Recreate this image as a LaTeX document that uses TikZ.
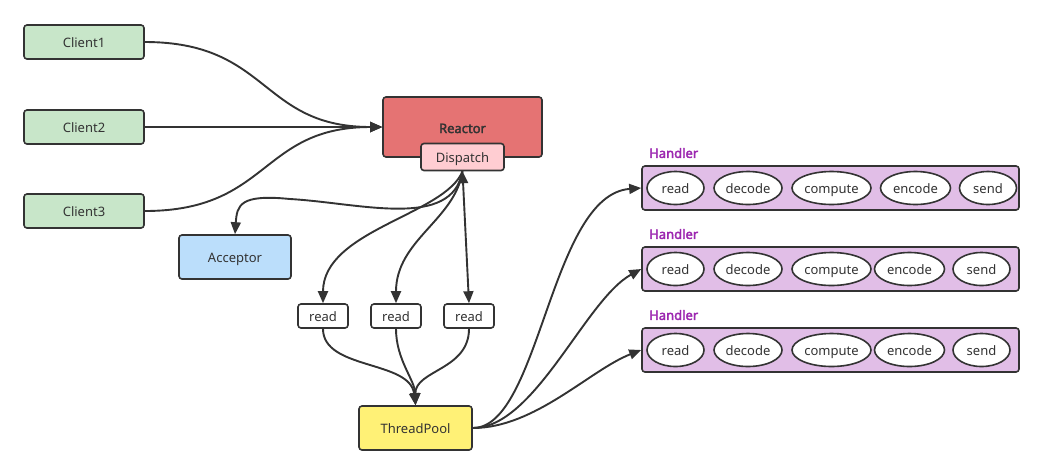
\documentclass[tikz,border=0pt]{standalone}
\usepackage{fontspec}
\setmainfont{Noto Sans}
\newfontfamily\hbold{Noto Sans}[FakeBold=2.5]
\usetikzlibrary{arrows.meta,shapes.geometric}
\definecolor{edge}{HTML}{333333}
\definecolor{cgreen}{HTML}{C8E6C9}
\definecolor{cred}{HTML}{E57373}
\definecolor{cpink}{HTML}{FFCDD2}
\definecolor{cblue}{HTML}{BBDEFB}
\definecolor{cyellow}{HTML}{FFF176}
\definecolor{cpurple}{HTML}{E1BEE7}
\definecolor{hlabel}{HTML}{9C27B0}
\tikzset{
  box/.style={draw=edge, line width=1.6pt, rounded corners=3pt, inner sep=0pt, text height=12pt, text depth=1pt, font=\fontsize{13}{15}\selectfont, text=edge},
  ell/.style={draw=edge, line width=1.6pt, ellipse, inner sep=0pt, minimum height=33pt, text height=12pt, text depth=1pt, fill=white, font=\fontsize{13}{15}\selectfont, text=edge},
  conn/.style={draw=edge, line width=1.9pt, -{Triangle[length=12pt,width=10pt]}},
  hlab/.style={anchor=west, inner sep=0pt, text=hlabel, font=\hbold\fontsize{13}{15}\selectfont},
}
\begin{document}
\begin{tikzpicture}[x=1pt,y=-1pt]
\useasboundingbox (0,0) rectangle (1044,475);
% clients
\node[box, fill=cgreen, minimum width=120pt, minimum height=34pt] (c1) at (84,42) {Client1};
\node[box, fill=cgreen, minimum width=120pt, minimum height=34pt] (c2) at (84,127) {Client2};
\node[box, fill=cgreen, minimum width=120pt, minimum height=34pt] (c3) at (84,211) {Client3};
% reactor
\node[box, fill=cred, minimum width=159pt, minimum height=60pt] (re) at (462.5,127) {};
\node[inner sep=0pt, text height=12pt, text depth=1pt, font=\hbold\fontsize{13}{15}\selectfont, text=edge] (retxt) at (462.5,127.5) {Reactor};
\node[box, fill=cpink, minimum width=83pt, minimum height=27pt] (disp) at (462.5,157) {Dispatch};
% acceptor
\node[box, fill=cblue, minimum width=112pt, minimum height=44pt] (acc) at (235,257) {Acceptor};
% reads
\node[box, fill=white, minimum width=50pt, minimum height=24pt] (r1) at (323,316) {read};
\node[box, fill=white, minimum width=50pt, minimum height=24pt] (r2) at (396,316) {read};
\node[box, fill=white, minimum width=50pt, minimum height=24pt] (r3) at (469,316) {read};
% threadpool
\node[box, fill=cyellow, minimum width=113pt, minimum height=44pt] (tp) at (415.5,428) {ThreadPool};
% handlers
\foreach \i/\y/\ex/\sx in {1/188/915.5/988, 2/269/909.5/981.5, 3/350/909.5/981.5}{
  \node[box, fill=cpurple, minimum width=377pt, minimum height=44pt] (h\i) at (830.5,\y) {};
  \node[hlab] (hl\i) at (649,\y-35) {Handler};
  \node[ell, minimum width=57pt] (h\i a) at (675.5,\y) {read};
  \node[ell, minimum width=68pt] (h\i b) at (748,\y) {decode};
  \node[ell, minimum width=79pt] (h\i c) at (831.5,\y) {compute};
  \node[ell, minimum width=70pt] (h\i d) at (\ex,\y) {encode};
  \node[ell, minimum width=57pt] (h\i e) at (\sx,\y) {send};
}
% client connectors
\draw[conn] (c1.east) .. controls (270,42) and (260,127) .. (re.west);
\draw[conn] (c2.east) -- (re.west);
\draw[conn] (c3.east) .. controls (270,211) and (260,127) .. (re.west);
% dispatch connectors
\coordinate (am) at (290,199);
\draw[conn] (disp.south) .. controls (452,230) and (360,203) .. (am) .. controls (240,194) and (237,205) .. (acc.north);
\draw[conn] (disp.south) .. controls (445,215) and (323,230) .. (r1.north);
\draw[conn] (disp.south) .. controls (455,220) and (396,240) .. (r2.north);
\draw[conn, {Triangle[length=12pt,width=10pt]}-{Triangle[length=12pt,width=10pt]}] (disp.south) -- (r3.north);
% reads to threadpool
\draw[conn] (r1.south) .. controls (323,370) and (410,360) .. (tp.north);
\draw[conn] (r2.south) .. controls (396,360) and (415,380) .. (tp.north);
\draw[conn] (r3.south) .. controls (469,370) and (415,370) .. (tp.north);
% threadpool to handlers
\draw[conn] (tp.east) .. controls (540,428) and (550,195) .. (h1.west);
\draw[conn] (tp.east) .. controls (535,428) and (585,300) .. (h2.west);
\draw[conn] (tp.east) .. controls (535,428) and (590,370) .. (h3.west);
\end{tikzpicture}
\end{document}
